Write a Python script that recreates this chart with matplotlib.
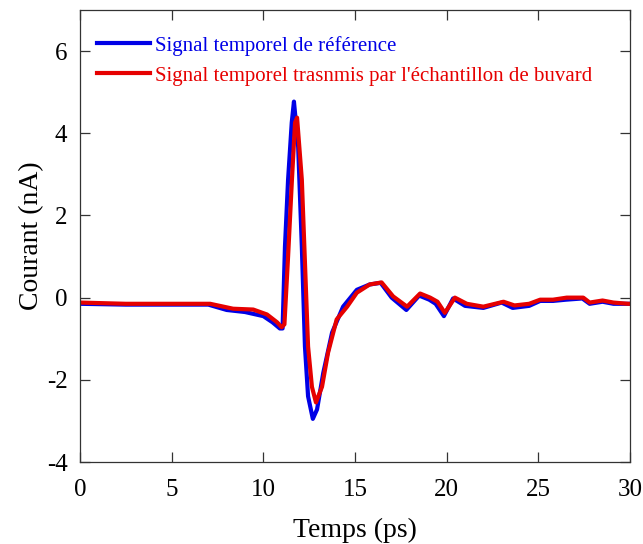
import matplotlib
matplotlib.use('Agg')
import matplotlib.pyplot as plt

plt.rcParams['font.family'] = ['Liberation Serif', 'DejaVu Serif']
plt.rcParams['axes.unicode_minus'] = False

# Signal de référence (bleu)
t_ref = [0, 2.5, 5, 7, 8, 9, 10, 10.5, 10.9, 11.05, 11.18, 11.35, 11.55, 11.67,
         11.9, 12.1, 12.27, 12.44, 12.7, 12.93, 13.27, 13.75, 14.35, 15.1, 15.8,
         16.4, 17.0, 17.8, 18.5, 19.05, 19.4, 19.85, 20.35, 21.0, 22.0, 23.0,
         23.6, 24.5, 25.1, 25.8, 26.5, 27.4, 27.8, 28.5, 29.1, 30]
i_ref = [-0.15, -0.17, -0.17, -0.17, -0.3, -0.35, -0.45, -0.6, -0.75, -0.75,
         1.24, 2.87, 4.26, 4.77, 3.67, 1.24, -1.19, -2.4, -2.95, -2.72, -1.83,
         -0.85, -0.22, 0.19, 0.32, 0.36, 0.0, -0.3, 0.05, -0.05, -0.15, -0.45,
         -0.02, -0.2, -0.25, -0.12, -0.25, -0.2, -0.08, -0.08, -0.05, -0.02,
         -0.15, -0.1, -0.15, -0.15]

# Signal transmis par l'échantillon (rouge)
t_ech = [0, 2.5, 5, 7.1, 8.35, 9.45, 10.2, 10.75, 11.0, 11.15, 11.35, 11.56,
         11.73, 11.84, 12.1, 12.27, 12.44, 12.65, 12.87, 13.2, 13.53, 14.0,
         14.57, 15.1, 15.8, 16.45, 17.08, 17.84, 18.55, 19.1, 19.5, 19.9, 20.45,
         21.1, 22.0, 23.1, 23.7, 24.5, 25.1, 25.8, 26.55, 27.45, 27.8, 28.5,
         29.1, 29.9, 30]
i_ech = [-0.12, -0.15, -0.15, -0.15, -0.27, -0.29, -0.41, -0.6, -0.72, -0.65,
         1.0, 2.87, 4.26, 4.38, 2.87, 0.85, -1.19, -2.17, -2.55, -2.17, -1.34,
         -0.53, -0.22, 0.12, 0.32, 0.37, 0.03, -0.22, 0.1, 0.0, -0.1, -0.37, 0.0,
         -0.15, -0.22, -0.1, -0.19, -0.15, -0.05, -0.05, 0.0, 0.0, -0.12, -0.07,
         -0.12, -0.15, -0.15]

fig = plt.figure(figsize=(6.43, 5.44), dpi=100)
ax = fig.add_axes([0.1244, 0.1507, 0.8554, 0.831])

ax.plot(t_ref, i_ref, color='#0000e6', linewidth=3,
        label='Signal temporel de référence')
ax.plot(t_ech, i_ech, color='#e60000', linewidth=3,
        label="Signal temporel trasnmis par l'échantillon de buvard")

ax.set_xlim(0, 30)
ax.set_ylim(-4, 7)
ax.set_xticks(range(0, 31, 5))
ax.set_yticks(range(-4, 7, 2))
for s in ax.spines.values():
    s.set_linewidth(0.9)
    s.set_color('#333333')
ax.tick_params(direction='in', top=True, right=True, labelsize=18, length=7,
               width=0.9, color='#333333')
ax.tick_params(axis='x', pad=12)
ax.tick_params(axis='y', pad=9)
ax.set_xlabel('Temps (ps)', fontsize=20, labelpad=12)
ax.set_ylabel('Courant (nA)', fontsize=20, labelpad=2)

ax.legend(loc='upper left', frameon=False, fontsize=15, labelcolor='linecolor',
          handlelength=2.55, handletextpad=0.25, borderaxespad=0.4,
          labelspacing=0.5, bbox_to_anchor=(0.0, 0.98))

fig.savefig('out.png', dpi=100)
